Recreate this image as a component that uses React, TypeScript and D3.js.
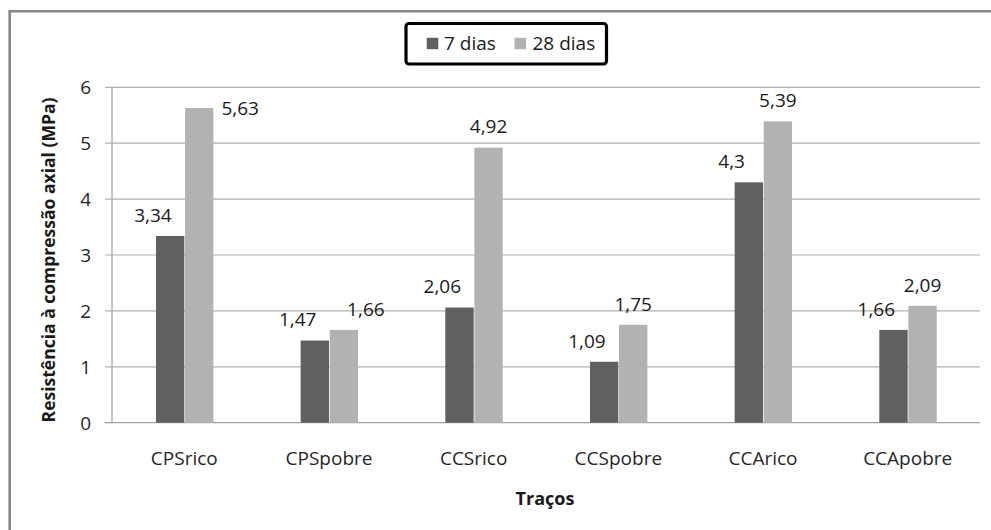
import React from "react";
import * as d3 from "d3";

// Compressive strength (MPa) per mix, at 7 and 28 days
const categories = ["CPSrico", "CPSpobre", "CCSrico", "CCSpobre", "CCArico", "CCApobre"];
const dias7 = [3.34, 1.47, 2.06, 1.09, 4.3, 1.66];
const dias28 = [5.63, 1.66, 4.92, 1.75, 5.39, 2.09];
const seriesNames = ["7 dias", "28 dias"];
const yTicks = [0, 1, 2, 3, 4, 5, 6];

const W = 991;
const H = 530;
const FONT = "'Open Sans', 'Noto Sans', sans-serif";
const DARK = "#606060";
const LIGHT = "#b2b2b2";

const fmt = (v: number) => String(v).replace(".", ",");

export default function App() {
  const x = d3.scaleBand<string>().domain(categories).range([112, 980]).paddingInner(0).paddingOuter(0);
  const y = d3.scaleLinear().domain([0, 6]).range([422.7, 87.3]);
  const bw = x.bandwidth() * 0.196;

  // small manual nudges for the 28-day labels that would otherwise collide
  const nudge28: [number, number][] = [[41, 21], [22, 0], [0, 0], [0, 0], [0, 0], [0, 0]];

  return (
    <svg width={W} height={H} style={{ position: "absolute", left: 0, top: 0, background: "#fff" }} fontFamily={FONT}>
      {/* chart frame */}
      <path d={`M9.7,${H + 5} L9.7,11.3 L${W + 5},11.3`} fill="none" stroke="#878787" strokeWidth={2.6} />

      {/* gridlines and y ticks */}
      {yTicks.map((t) => (
        <g key={t}>
          <line x1={105} x2={980} y1={y(t)} y2={y(t)} stroke={t === 0 ? "#a0a0a0" : "#b0b0b0"} strokeWidth={1.2} />
          <text x={91} y={y(t) + 6.8} textAnchor="end" fontSize={19} fill="#262626">{t}</text>
        </g>
      ))}
      <line x1={112} x2={112} y1={y(6)} y2={y(0)} stroke="#a0a0a0" strokeWidth={1.2} />

      {/* bars */}
      {categories.map((c, i) => {
        const cx = (x(c) as number) + x.bandwidth() / 2;
        const t7 = y(dias7[i]);
        const t28 = y(dias28[i]);
        return (
          <g key={c}>
            <rect x={cx - bw} y={t7} width={bw} height={y(0) - t7} fill={DARK} />
            <rect x={cx + 0.7} y={t28} width={bw} height={y(0) - t28} fill={LIGHT} />
            <text x={cx - bw - 3} y={t7 - 21 + 6.8} textAnchor="middle" fontSize={19} fill="#1a1a1a">{fmt(dias7[i])}</text>
            <text x={cx + 0.7 + bw / 2 + nudge28[i][0]} y={t28 - 21 + nudge28[i][1] + 6.8} textAnchor="middle" fontSize={19} fill="#1a1a1a">{fmt(dias28[i])}</text>
            <text x={cx} y={465} textAnchor="middle" fontSize={19} fill="#262626">{c}</text>
          </g>
        );
      })}

      {/* axis titles */}
      <text x={545} y={505} textAnchor="middle" fontSize={18} fontWeight="bold" fill="#1a1a1a">Traços</text>
      <text transform={`translate(55,${(93 + 427) / 2}) rotate(-90)`} textAnchor="middle" fontSize={17.5} fontWeight="bold" fill="#1a1a1a">
        Resistência à compressão axial (MPa)
      </text>

      {/* legend */}
      <rect x={406} y={23.5} width={200.5} height={40.5} rx={3} fill="#fff" stroke="#000" strokeWidth={3.2} />
      <rect x={426.7} y={37.8} width={11.6} height={11.4} fill={DARK} />
      <text x={444} y={49.5} fontSize={19} fill="#1a1a1a">{seriesNames[0]}</text>
      <rect x={514.5} y={37.8} width={11.6} height={11.4} fill={LIGHT} />
      <text x={532.5} y={49.5} fontSize={19} fill="#1a1a1a">{seriesNames[1]}</text>
    </svg>
  );
}
